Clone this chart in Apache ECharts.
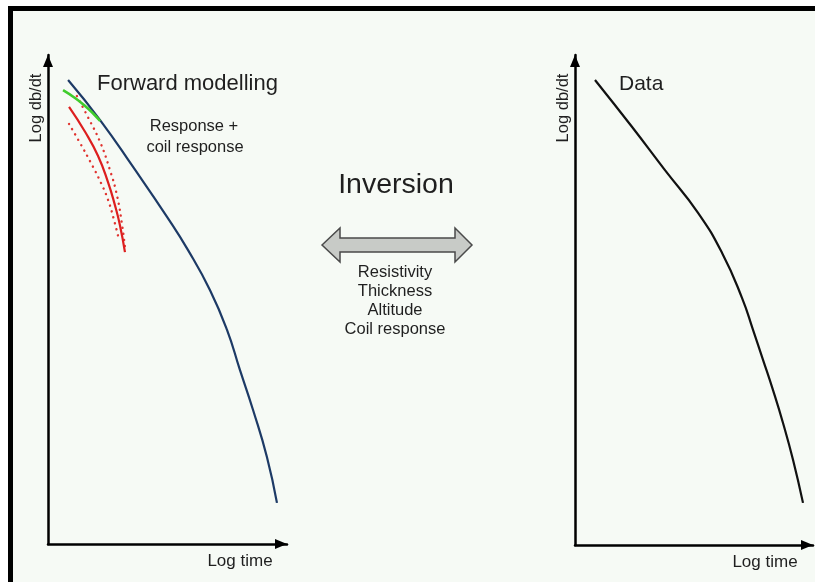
<!DOCTYPE html>
<html>
<head>
<meta charset="utf-8">
<script src="https://cdn.jsdelivr.net/npm/echarts@6/dist/echarts.min.js"></script>
<style>
html,body{margin:0;padding:0;background:#ffffff;}
#chart{width:815px;height:582px;}
</style>
</head>
<body>
<div id="chart"></div>
<script>
// Left panel (forward modelling), arbitrary log units 0..100
const modelTime = [8.4, 21.8, 35.6, 49.8, 58.6, 67.8, 74.9, 80.3, 85.8, 91.6, 95.8];
const modelDbdt = [94.9, 86.7, 77.1, 66.9, 60.1, 51.9, 43.8, 35.6, 27.4, 17.8, 8.4];
const coilTime = [6.3, 11.3, 15.5, 18.4, 21.8];
const coilDbdt = [92.8, 91.2, 89.6, 88.3, 86.5];
const respTime = [8.8, 15.5, 20.9, 25.1, 28.0, 30.1, 32.2];
const respDbdt = [89.4, 84.3, 79.4, 74.0, 69.3, 65.2, 59.7];
const respUpTime = [12.1, 16.7, 21.8, 25.9, 28.9, 31.0, 32.2];
const respUpDbdt = [91.6, 87.3, 82.2, 76.5, 71.2, 65.2, 60.7];
const respLoTime = [8.8, 13.4, 18.0, 22.2, 25.1, 27.6, 29.7];
const respLoDbdt = [85.9, 82.0, 77.9, 73.8, 70.4, 66.3, 62.2];
// Right panel (data)
const dataTime = [8.4, 24.0, 37.8, 51.7, 61.8, 70.2, 74.8, 79.0, 83.2, 87.4, 91.6, 95.8];
const dataDbdt = [94.9, 85.3, 76.5, 67.8, 59.6, 50.4, 43.9, 37.8, 31.6, 24.9, 17.4, 8.6];
// Texts
const yAxisLabel = 'Log db/dt';
const xAxisLabel = 'Log time';
const inversionParams = ['Resistivity', 'Thickness', 'Altitude', 'Coil response'];

const zip = (a, b) => a.map((v, i) => [v, b[i]]);
const FONT = "'Liberation Sans', Arial, sans-serif";
const TXT = '#1f1f1f';

const chart = echarts.init(document.getElementById('chart'), null, {renderer: 'canvas'});

function axisLine() {
  return {
    show: true,
    lineStyle: {color: '#000', width: 2.5},
    symbol: ['none', 'triangle'],
    symbolSize: [10, 12],
    symbolOffset: [0, -6]
  };
}
function ax(gi) {
  return {type: 'value', gridIndex: gi, min: 0, max: 100, axisLine: axisLine(),
    axisTick: {show: false}, axisLabel: {show: false}, splitLine: {show: false}};
}
function line(name, gi, data, color, width, type, z, cap) {
  return {name, type: 'line', xAxisIndex: gi, yAxisIndex: gi, data, smooth: 0.5,
    showSymbol: false, symbol: 'none', z: z || 2,
    lineStyle: {color, width, type: type || 'solid', cap: cap || 'butt'}};
}
function txt(text, x, y, size, opts) {
  opts = opts || {};
  return {type: 'text', x, y, rotation: opts.rotation || 0, z: 10,
    style: {text, fill: TXT, font: size + 'px ' + FONT,
      align: opts.align || 'center', verticalAlign: 'middle'}};
}

const graphics = [
  {type: 'rect', shape: {x: 13, y: 11, width: 802, height: 571}, style: {fill: '#f6faf5'}, z: -10, silent: true},
  {type: 'rect', shape: {x: 8, y: 6, width: 807, height: 5}, style: {fill: '#000'}, z: -5},
  {type: 'rect', shape: {x: 8, y: 6, width: 5, height: 576}, style: {fill: '#000'}, z: -5},
  {type: 'polygon', z: 5, shape: {points: [[322,245],[340,228],[340,238],[455,238],[455,228],[472,245],[455,262],[455,252],[340,252],[340,262]]},
    style: {fill: '#c8cbc7', stroke: '#4a4a4a', lineWidth: 1.5}},
  txt('Forward modelling', 97, 84, 22, {align: 'left'}),
  txt('Response +', 194, 126, 16.5),
  txt('coil response', 195, 147, 16.5),
  txt('Inversion', 396, 185, 28.5),
  txt('Data', 619, 84, 21, {align: 'left'}),
  txt(yAxisLabel, 36, 108, 16.5, {rotation: Math.PI / 2}),
  txt(yAxisLabel, 563, 108, 16.5, {rotation: Math.PI / 2}),
  txt(xAxisLabel, 240, 561, 17),
  txt(xAxisLabel, 765, 562, 17)
];
inversionParams.forEach((p, i) => graphics.push(txt(p, 395, 272 + i * 19, 16.5)));

chart.setOption({
  animation: false,
  backgroundColor: '#ffffff',
  grid: [
    {left: 48, top: 55, width: 239, height: 489},
    {left: 575, top: 55, width: 238, height: 490}
  ],
  xAxis: [ax(0), ax(1)],
  yAxis: [ax(0), ax(1)],
  series: [
    line('Response (lower)', 0, zip(respLoTime, respLoDbdt), '#e0332f', 2.4, [0.1, 6], 3, 'round'),
    line('Response (upper)', 0, zip(respUpTime, respUpDbdt), '#e0332f', 2.4, [0.1, 6], 3, 'round'),
    line('Response', 0, zip(respTime, respDbdt), '#dd1f1f', 2.2, 'solid', 4),
    line('Model', 0, zip(modelTime, modelDbdt), '#1d3a66', 2.2, 'solid', 5),
    line('Coil response', 0, zip(coilTime, coilDbdt), '#3fcc2c', 2.6, 'solid', 6),
    line('Data', 1, zip(dataTime, dataDbdt), '#111111', 2.2, 'solid', 5)
  ],
  graphic: graphics
});
</script>
</body>
</html>
